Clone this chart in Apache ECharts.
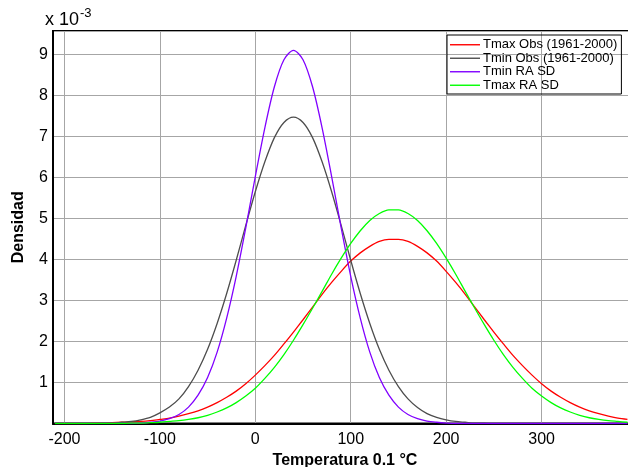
<!DOCTYPE html>
<html><head><meta charset="utf-8">
<script src="https://cdn.jsdelivr.net/npm/echarts@6/dist/echarts.min.js"></script>
<style>html,body{margin:0;padding:0;background:#fff}#c{width:628px;height:467px}</style>
</head><body><div id="c"></div>
<script>
// x positions (0.1 °C)
var xs = [-210,-200,-190,-180,-170,-160,-150,-140,-130,-120,-110,-100,-90,-80,-70,-60,-50,-40,-30,-20,-10,0,10,20,30,40,50,60,70,80,90,100,110,120,130,140,150,160,170,180,190,200,210,220,230,240,250,260,270,280,290,300,310,320,330,340,350,360,370,380,390];
// densities in units of 1e-3
var tmaxObs = [0,0,0,0,0.01,0.01,0.02,0.03,0.04,0.05,0.07,0.10,0.13,0.18,0.24,0.31,0.40,0.51,0.64,0.79,0.97,1.18,1.41,1.66,1.94,2.23,2.53,2.84,3.15,3.44,3.71,3.96,4.16,4.32,4.44,4.49,4.49,4.44,4.32,4.16,3.96,3.71,3.44,3.15,2.84,2.53,2.23,1.94,1.66,1.41,1.18,0.97,0.79,0.64,0.51,0.40,0.31,0.24,0.18,0.13,0.10];
var tminObs = [0,0,0,0,0,0.01,0.01,0.03,0.05,0.09,0.15,0.26,0.40,0.60,0.90,1.30,1.81,2.44,3.17,3.98,4.83,5.65,6.38,6.97,7.34,7.47,7.34,6.97,6.38,5.65,4.83,3.98,3.17,2.44,1.81,1.30,0.90,0.60,0.39,0.24,0.15,0.09,0.05,0.03,0.01,0.01,0,0,0,0,0,0,0,0,0,0,0,0,0,0,0];
var tminRA = [0,0,0,0,0,0,0,0,0,0.01,0.03,0.06,0.12,0.22,0.40,0.69,1.12,1.74,2.57,3.59,4.77,6.02,7.21,8.21,8.87,9.10,8.87,8.21,7.21,6.02,4.77,3.59,2.57,1.74,1.12,0.69,0.40,0.22,0.12,0.06,0.03,0.01,0,0,0,0,0,0,0,0,0,0,0,0,0,0,0,0,0,0,0];
var tmaxRA = [0,0,0,0,0,0,0,0,0.01,0.01,0.02,0.03,0.05,0.07,0.10,0.14,0.20,0.28,0.38,0.51,0.67,0.86,1.10,1.37,1.68,2.03,2.41,2.81,3.22,3.64,4.03,4.39,4.70,4.95,5.12,5.21,5.21,5.12,4.95,4.70,4.39,4.03,3.64,3.22,2.81,2.41,2.03,1.68,1.37,1.10,0.86,0.67,0.51,0.38,0.28,0.20,0.14,0.10,0.07,0.05,0.03];
var xTicks = [-200,-100,0,100,200,300];
var yTicks = [1,2,3,4,5,6,7,8,9];
var names = ['Tmax Obs (1961-2000)','Tmin Obs (1961-2000)','Tmin RA SD','Tmax RA SD'];
var colors = ['#ff0000','#4d4d4d','#8000ff','#00ff00'];

function pairs(arr){ return xs.map(function(x,i){ return [x, arr[i]]; }); }
var FONT = 'Liberation Sans, Arial, sans-serif';
var chart = echarts.init(document.getElementById('c'));
var seriesData = [tmaxObs, tminObs, tminRA, tmaxRA];
chart.setOption({
  animation:false,
  backgroundColor:'#fff',
  title:[
    {text:'x 10', left:45, top:11, padding:0, textStyle:{fontFamily:FONT,fontSize:18,fontWeight:'normal',color:'#000'}},
    {text:'-3', left:80, top:7, padding:0, textStyle:{fontFamily:FONT,fontSize:13,fontWeight:'normal',color:'#000'}}
  ],
  grid:{left:53, top:31, height:392.5, width:584, outerBoundsMode:'none', show:true, borderColor:'#000', borderWidth:2, containLabel:false},
  legend:{
    data:names, orient:'vertical', left:447, top:35,
    padding:[3,4,2,3], itemGap:0, itemWidth:30, itemHeight:1.4, icon:'rect',
    borderColor:'#000', borderWidth:1,
    textStyle:{fontFamily:FONT, fontSize:13, color:'#000', lineHeight:13.5, padding:[0,0,0,-2]}
  },
  xAxis:{
    type:'value', min:-212, max:400,
    name:'Temperatura 0.1 °C', nameLocation:'middle', nameGap:28,
    nameTextStyle:{fontFamily:FONT, fontSize:16, fontWeight:'bold', color:'#000'},
    axisLine:{show:true, onZero:false, lineStyle:{color:'#000', width:2}},
    axisTick:{show:false, customValues:xTicks},
    axisLabel:{customValues:xTicks, fontFamily:FONT, fontSize:16, color:'#000', margin:8},
    splitLine:{show:true, lineStyle:{color:'#a6a6a6', width:1}}
  },
  yAxis:{
    type:'value', min:0, max:9.57, interval:1,
    name:'Densidad', nameLocation:'middle', nameGap:26,
    nameTextStyle:{fontFamily:FONT, fontSize:16, fontWeight:'bold', color:'#000'},
    axisLine:{show:true, onZero:false, lineStyle:{color:'#000', width:2}},
    axisTick:{show:false},
    axisLabel:{fontFamily:FONT, fontSize:16, color:'#000', margin:5,
      formatter:function(v){ var r=Math.round(v); return (Math.abs(v-r)<1e-6 && yTicks.indexOf(r)>=0)? String(r):''; }},
    splitLine:{show:true, lineStyle:{color:'#a6a6a6', width:1}}
  },
  series: seriesData.map(function(d,i){
    return {name:names[i], type:'line', data:pairs(d), smooth:0.3, symbol:'none',
      clip:true, lineStyle:{color:colors[i], width:1.3}, itemStyle:{color:colors[i]}};
  })
});
</script></body></html>
